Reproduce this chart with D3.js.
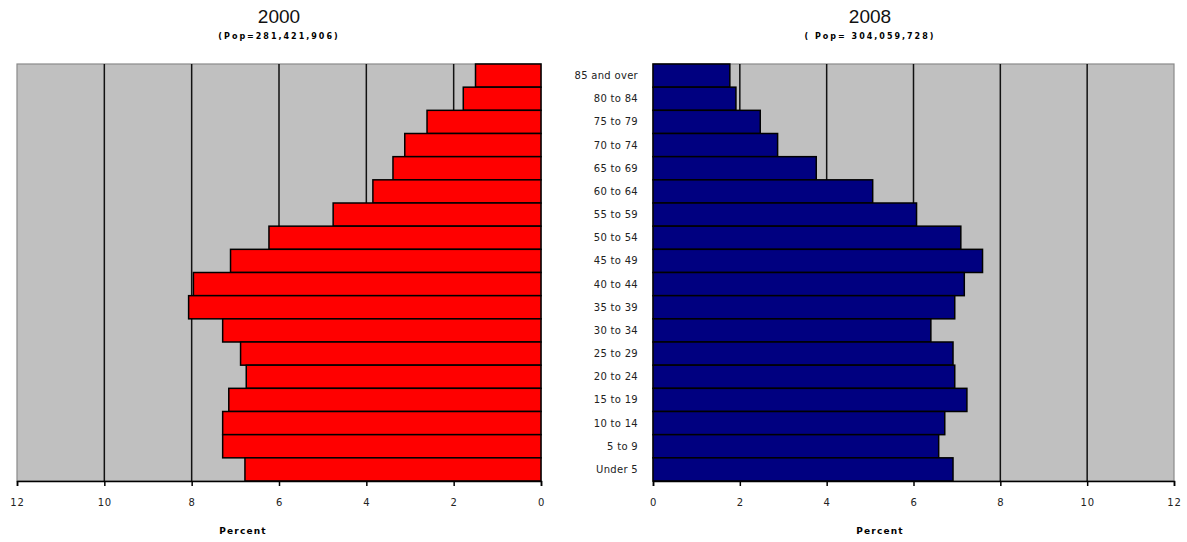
<!DOCTYPE html>
<html><head><meta charset="utf-8">
<script src="https://cdn.jsdelivr.net/npm/d3@7"></script>
<style>body{margin:0;background:#fff}svg{display:block}</style>
</head><body>
<svg id="c" width="1187" height="542"></svg>
<script>
const ageGroups = ["85 and over","80 to 84","75 to 79","70 to 74","65 to 69","60 to 64","55 to 59","50 to 54","45 to 49","40 to 44","35 to 39","30 to 34","25 to 29","20 to 24","15 to 19","10 to 14","5 to 9","Under 5"];
const pct2000 = [1.50,1.78,2.61,3.12,3.39,3.85,4.76,6.23,7.11,7.96,8.07,7.29,6.88,6.75,7.15,7.29,7.29,6.78];
const pct2008 = [1.77,1.91,2.47,2.87,3.76,5.06,6.07,7.09,7.59,7.17,6.95,6.40,6.91,6.95,7.23,6.72,6.58,6.91];
const tickValues = [0,2,4,6,8,10,12];
const titles = ["2000","2008"];
const subtitles = ["(Pop=281,421,906)","( Pop= 304,059,728)"];
const axisTitle = "Percent";

const svg = d3.select("#c");
const plotTop = 64, plotBottom = 481;
const y = d3.scaleBand().domain(ageGroups).range([plotTop, plotBottom]).padding(0);

function panel(x, data, color, title, sub, titleX, axisTitleX) {
  const [x0, x1] = [Math.min(...x.range()), Math.max(...x.range())];
  const g = svg.append("g");
  g.append("rect").attr("x", x0).attr("y", plotTop).attr("width", x1 - x0).attr("height", plotBottom - plotTop)
    .attr("fill", "#c0c0c0").attr("stroke", "#8a8a8a").attr("stroke-width", 1.2);
  g.selectAll("line.grid").data([2,4,6,8,10]).join("line").attr("class","grid")
    .attr("x1", d => x(d)).attr("x2", d => x(d)).attr("y1", plotTop).attr("y2", plotBottom)
    .attr("stroke", "#111").attr("stroke-width", 1.5);
  g.selectAll("rect.bar").data(data).join("rect").attr("class","bar")
    .attr("x", d => Math.min(x(0), x(d.v))).attr("width", d => Math.abs(x(d.v) - x(0)))
    .attr("y", d => y(d.k)).attr("height", y.bandwidth())
    .attr("fill", color).attr("stroke", "#000").attr("stroke-width", 1.5);
  const ax = g.append("g").attr("transform", `translate(0,${plotBottom})`)
    .call(d3.axisBottom(x).tickValues(tickValues).tickSize(5).tickPadding(13).tickFormat(d3.format("d")));
  ax.select(".domain").attr("stroke", "#000").attr("stroke-width", 1.5);
  ax.selectAll(".tick line").attr("stroke", "#000").attr("stroke-width", 1.5);
  ax.selectAll("text").attr("font-family", "DejaVu Sans, sans-serif").attr("font-size", 10)
    .attr("fill", "#222").style("letter-spacing", "0.8px");
  svg.append("text").attr("x", axisTitleX).attr("y", 534).attr("text-anchor", "middle")
    .attr("font-family", "DejaVu Sans, sans-serif").attr("font-size", 9).attr("font-weight", "bold")
    .style("letter-spacing", "1.2px").text(axisTitle);
  svg.append("text").attr("x", titleX).attr("y", 23).attr("text-anchor", "middle")
    .attr("font-family", "Liberation Sans, Arial, sans-serif").attr("font-size", 19).attr("fill", "#111").text(title);
  svg.append("text").attr("x", titleX).attr("y", 39).attr("text-anchor", "middle")
    .attr("font-family", "DejaVu Sans, sans-serif").attr("font-size", 8).attr("font-weight", "bold")
    .style("letter-spacing", "2px").text(sub);
}

const xL = d3.scaleLinear().domain([12, 0]).range([17, 541]);
const xR = d3.scaleLinear().domain([0, 12]).range([653, 1174]);

panel(xL, ageGroups.map((k,i)=>({k, v: pct2000[i]})), "#ff0000", titles[0], subtitles[0], 279, 243);
panel(xR, ageGroups.map((k,i)=>({k, v: pct2008[i]})), "#000080", titles[1], subtitles[1], 870, 880);

svg.append("g").selectAll("text").data(ageGroups).join("text")
  .attr("x", 638).attr("y", d => y(d) + y.bandwidth()/2).attr("dy", "0.35em").attr("text-anchor", "end")
  .attr("font-family", "DejaVu Sans, sans-serif").attr("font-size", 10).attr("fill", "#222")
  .style("letter-spacing", "0.3px").text(d => d);
</script>
</body></html>
